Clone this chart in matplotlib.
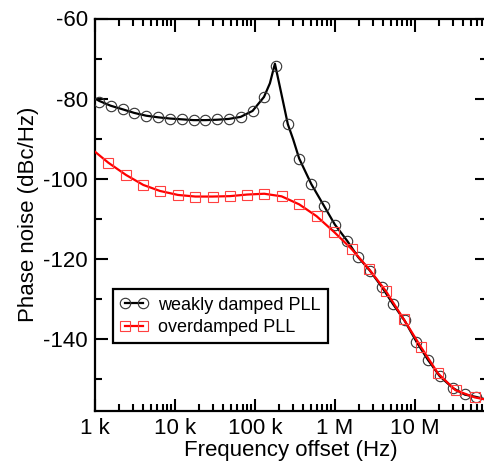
import matplotlib
matplotlib.use("Agg")
import matplotlib.pyplot as plt
from matplotlib.ticker import FixedLocator, LogLocator, NullFormatter, MultipleLocator

plt.rcParams["font.family"] = ["Liberation Sans", "DejaVu Sans"]
plt.rcParams["axes.unicode_minus"] = False

# curva PLL poco amortiguado (línea y marcadores)
weak_line_f = [1.0e3, 1.13e3, 1.57e3, 2.22e3, 3.10e3, 4.38e3, 6.18e3, 8.66e3, 12.2e3,
               17.1e3, 23.9e3, 33.5e3, 46.9e3, 66.2e3, 93.5e3, 130e3, 154e3, 178e3,
               205e3, 237e3, 258e3, 301e3, 358e3, 508e3, 735e3, 1.0e6, 1.43e6, 1.95e6,
               2.74e6, 3.84e6, 5.35e6, 7.5e6, 10.5e6, 14.7e6, 20.5e6, 30.1e6, 42.2e6,
               59e6, 80e6]
weak_line_db = [-80.0, -80.6, -81.8, -82.7, -83.6, -84.3, -84.7, -85.0, -85.2,
                -85.4, -85.4, -85.3, -85.1, -84.6, -83.1, -79.6, -76.2, -71.3,
                -77.0, -82.9, -86.4, -90.2, -95.0, -101.4, -106.9, -111.5, -115.6, -119.6,
                -123.0, -127.0, -131.4, -135.6, -140.8, -145.4, -149.4, -152.4, -154.0,
                -154.6, -155.3]
weak_mk_f = [1.13e3, 1.57e3, 2.22e3, 3.10e3, 4.38e3, 6.18e3, 8.66e3, 12.2e3, 17.1e3,
             23.9e3, 33.5e3, 46.9e3, 66.2e3, 93.5e3, 130e3, 183e3, 258e3, 358e3, 508e3,
             735e3, 1.0e6, 1.43e6, 1.95e6, 2.74e6, 3.84e6, 5.35e6, 7.5e6, 10.5e6,
             14.7e6, 20.5e6, 30.1e6, 42.2e6, 59e6]
weak_mk_db = [-80.8, -81.9, -82.7, -83.6, -84.3, -84.6, -85.0, -85.2, -85.4,
              -85.4, -85.2, -85.1, -84.6, -83.1, -79.6, -71.8, -86.4, -95.05, -101.4,
              -106.9, -111.5, -115.6, -119.6, -123.05, -127.05, -131.4, -135.4, -140.8,
              -145.4, -149.4, -152.45, -153.95, -154.55]

# curva PLL sobreamortiguado
over_line_f = [1.0e3, 1.47e3, 2.44e3, 4.02e3, 6.49e3, 10.9e3, 18.0e3, 29.6e3, 48.7e3,
               80.1e3, 131e3, 216e3, 358e3, 590e3, 972e3, 1.62e6, 2.69e6, 4.34e6,
               7.29e6, 11.9e6, 19.5e6, 32.3e6, 56.2e6, 80e6]
over_line_db = [-93.3, -96.05, -99.1, -101.6, -103.1, -104.1, -104.5, -104.5, -104.4,
                -104.0, -103.8, -104.45, -106.45, -109.4, -113.3, -117.6, -122.7, -128.1,
                -135.2, -142.05, -148.7, -152.9, -154.7, -155.3]
over_mk_f = over_line_f[1:-1]
over_mk_db = over_line_db[1:-1]

xticks = [1e3, 1e4, 1e5, 1e6, 1e7]
xticklabels = ["1 k", "10 k", "100 k", "1 M", "10 M"]
yticks = [-60, -80, -100, -120, -140]

fig = plt.figure(figsize=(4.85, 4.63), dpi=100)
W, H = 485, 463
ax = fig.add_axes([95 / W, 52 / H, (487 - 95) / W, (411 - 18.5) / H])

ax.plot(weak_line_f, weak_line_db, color="black", lw=1.6, zorder=3)
ax.plot(weak_mk_f, weak_mk_db, ls="none", marker="o", ms=7.5, mfc="none",
        mec="#333333", mew=0.8, zorder=4)
ax.plot(over_line_f, over_line_db, color="red", lw=1.6, zorder=5)
ax.plot(over_mk_f, over_mk_db, ls="none", marker="s", ms=7, mfc="none",
        mec="#ff4040", mew=0.8, zorder=6)

# handles de la leyenda con línea + marcadores
h1, = ax.plot([], [], color="black", lw=1.6, marker="o", ms=7.5, mfc="none",
              mec="#333333", mew=0.8)
h2, = ax.plot([], [], color="red", lw=1.6, marker="s", ms=7, mfc="none",
              mec="#ff4040", mew=0.8)
leg = ax.legend([h1, h2], ["weakly damped PLL", "overdamped PLL"], numpoints=2,
                loc="lower left", bbox_to_anchor=(0.045, 0.1725), borderaxespad=0,
                fontsize=13, handlelength=1.6, handletextpad=0.5, borderpad=0.4,
                labelspacing=0.3, fancybox=False, framealpha=1, edgecolor="black")
leg.get_frame().set_linewidth(1.6)

ax.set_xscale("log")
ax.set_xlim(1e3, 8e7)
ax.set_ylim(-158.1, -60)
ax.xaxis.set_major_locator(FixedLocator(xticks))
ax.set_xticklabels(xticklabels)
ax.xaxis.set_minor_locator(LogLocator(base=10, subs=range(2, 10)))
ax.xaxis.set_minor_formatter(NullFormatter())
ax.yaxis.set_major_locator(FixedLocator(yticks))
ax.yaxis.set_minor_locator(MultipleLocator(10))

ax.tick_params(which="both", direction="in", top=True, right=True, width=1.5,
               labelsize=16, pad=5)
ax.tick_params(which="major", length=9)
ax.tick_params(which="minor", length=5)
for s in ax.spines.values():
    s.set_linewidth(1.6)

ax.set_xlabel("Frequency offset (Hz)", fontsize=16, labelpad=1)
ax.set_ylabel("Phase noise (dBc/Hz)", fontsize=16, labelpad=3)

fig.savefig("out.png", dpi=100)
